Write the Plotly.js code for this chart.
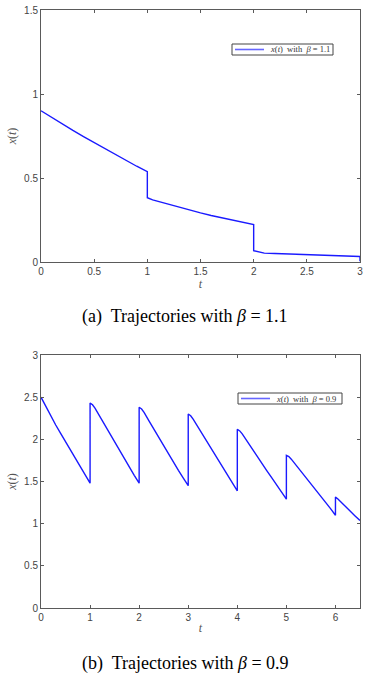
<!DOCTYPE html>
<html>
<head>
<meta charset="utf-8">
<script src="https://cdn.plot.ly/plotly-3.0.1.min.js"></script>
<style>
html,body{margin:0;padding:0;background:#fff;}
#chart{width:374px;height:679px;}
</style>
</head>
<body>
<div id="chart"></div>
<script>
// Panel (a): beta = 1.1
var tA = [0,0.1,0.2,0.3,0.4,0.5,0.6,0.7,0.8,0.9,1.0,
          1.0,1.05,1.1,1.2,1.3,1.4,1.5,1.6,1.7,1.8,1.9,2.0,
          2.0,2.05,2.1,2.2,2.3,2.4,2.5,2.6,2.7,2.8,2.9,3.0,
          3.0];
var xA = [0.900,0.860,0.821,0.783,0.746,0.710,0.674,0.639,0.604,0.570,0.538,
          0.383,0.370,0.361,0.344,0.327,0.309,0.292,0.277,0.263,0.249,0.236,0.223,
          0.067,0.058,0.053,0.051,0.049,0.046,0.044,0.042,0.039,0.037,0.035,0.033,
          0.004];
// Panel (b): beta = 0.9
var tB = [0,0.1,0.2,0.3,0.4,0.5,0.6,0.7,0.8,0.9,1.0,
          1.0,1.05,1.1,1.2,1.3,1.4,1.5,1.6,1.7,1.8,1.9,2.0,
          2.0,2.05,2.1,2.2,2.3,2.4,2.5,2.6,2.7,2.8,2.9,3.0,
          3.0,3.05,3.1,3.2,3.3,3.4,3.5,3.6,3.7,3.8,3.9,4.0,
          4.0,4.05,4.1,4.2,4.3,4.4,4.5,4.6,4.7,4.8,4.9,5.0,
          5.0,5.05,5.1,5.2,5.3,5.4,5.5,5.6,5.7,5.8,5.9,6.0,
          6.0,6.05,6.1,6.2,6.3,6.4,6.5];
var xB = [2.50,2.385,2.275,2.17,2.07,1.97,1.872,1.775,1.675,1.578,1.48,
          2.43,2.41,2.37,2.27,2.167,2.063,1.96,1.86,1.763,1.668,1.573,1.48,
          2.38,2.36,2.32,2.22,2.12,2.02,1.92,1.822,1.725,1.632,1.54,1.45,
          2.30,2.28,2.24,2.145,2.048,1.952,1.857,1.762,1.667,1.572,1.48,1.39,
          2.12,2.10,2.065,1.975,1.887,1.80,1.715,1.63,1.545,1.46,1.375,1.29,
          1.81,1.795,1.765,1.693,1.62,1.548,1.477,1.405,1.33,1.255,1.178,1.10,
          1.315,1.292,1.262,1.205,1.148,1.092,1.037];

var ticksXA = [0,0.5,1,1.5,2,2.5,3];
var ticksYA = [0,0.5,1,1.5];
var ticksXB = [0,1,2,3,4,5,6];
var ticksYB = [0,0.5,1,1.5,2,2.5,3];
var legendA = '<i>x</i>(<i>t</i>)  with  <i>β</i> = 1.1';
var legendB = '<i>x</i>(<i>t</i>)  with  <i>β</i> = 0.9';
var captionA = '(a)  Trajectories with <i>β</i> = 1.1';
var captionB = '(b)  Trajectories with <i>β</i> = 0.9';

var W = 374, H = 679;
function px(x){return x/W;}
function py(y){return 1 - y/H;}

var SERIF = "Liberation Serif";
var SANS = "Liberation Sans";
var lineColor = '#1a1aff';
var axColor = '#5a5a5a';
var tickFont = {family:SANS, size:10, color:'#444'};
var titleFont = {family:SERIF, size:12, color:'#555'};

function axisBase(){
  return {
    showline:true, mirror:'ticks', linecolor:axColor, linewidth:1,
    ticks:'inside', ticklen:3, tickcolor:axColor, tickwidth:1,
    showgrid:false, zeroline:false, tickfont:tickFont, fixedrange:true
  };
}

var traces = [
  {x:tA, y:xA, type:'scatter', mode:'lines', xaxis:'x', yaxis:'y',
   line:{color:lineColor, width:1.4}, name:legendA, showlegend:false},
  {x:tB, y:xB, type:'scatter', mode:'lines', xaxis:'x2', yaxis:'y2',
   line:{color:lineColor, width:1.4}, name:legendB, showlegend:false}
];

var xd = [px(41), px(360)];
var xa = axisBase(); xa.domain = xd; xa.anchor='y'; xa.range=[0,3]; xa.tickvals=ticksXA;
xa.ticktext = ticksXA.map(String);
xa.title = {text:'<i>t</i>', font:titleFont, standoff:1};
var ya = axisBase(); ya.domain=[py(262), py(10)]; ya.anchor='x'; ya.range=[0,1.5]; ya.tickvals=ticksYA;
ya.ticktext = ticksYA.map(String);
ya.title = {text:'<i>x</i>(<i>t</i>)', font:titleFont, standoff:4};
var xb = axisBase(); xb.domain = xd; xb.anchor='y2'; xb.range=[0,6.5]; xb.tickvals=ticksXB;
xb.ticktext = ticksXB.map(String);
xb.title = {text:'<i>t</i>', font:titleFont, standoff:1};
var yb = axisBase(); yb.domain=[py(608), py(355)]; yb.anchor='x2'; yb.range=[0,3]; yb.tickvals=ticksYB;
yb.ticktext = ticksYB.map(String);
yb.title = {text:'<i>x</i>(<i>t</i>)', font:titleFont, standoff:4};

var legFont = {family:SERIF, size:8.5, color:'#333'};

function legendShapes(x0,y0,x1,y1){
  return [
    {type:'rect', xref:'paper', yref:'paper', x0:px(x0), x1:px(x1), y0:py(y1), y1:py(y0),
     line:{color:'#444', width:1}, fillcolor:'#fff', layer:'above'},
    {type:'line', xref:'paper', yref:'paper', x0:px(x0+3), x1:px(x0+32), y0:py((y0+y1)/2), y1:py((y0+y1)/2),
     line:{color:'#6666ff', width:1.6}, layer:'above'}
  ];
}

var layout = {
  width:W, height:H,
  margin:{l:0,r:0,t:0,b:0},
  paper_bgcolor:'#fff', plot_bgcolor:'#fff',
  showlegend:false,
  xaxis:xa, yaxis:ya, xaxis2:xb, yaxis2:yb,
  shapes: legendShapes(232,44,333,55).concat(legendShapes(238,393,342,404)),
  annotations:[
    {xref:'paper', yref:'paper', x:px(268), y:py(49.5), text:legendA, showarrow:false,
     font:legFont, xanchor:'left', yanchor:'middle'},
    {xref:'paper', yref:'paper', x:px(274), y:py(398.5), text:legendB, showarrow:false,
     font:legFont, xanchor:'left', yanchor:'middle'},
    {xref:'paper', yref:'paper', x:px(185), y:py(316), text:captionA, showarrow:false,
     font:{family:SERIF, size:18, color:'#000'}, xanchor:'center', yanchor:'middle'},
    {xref:'paper', yref:'paper', x:px(185), y:py(663), text:captionB, showarrow:false,
     font:{family:SERIF, size:18, color:'#000'}, xanchor:'center', yanchor:'middle'}
  ]
};

Plotly.newPlot('chart', traces, layout, {displayModeBar:false, staticPlot:true});
</script>
</body>
</html>
